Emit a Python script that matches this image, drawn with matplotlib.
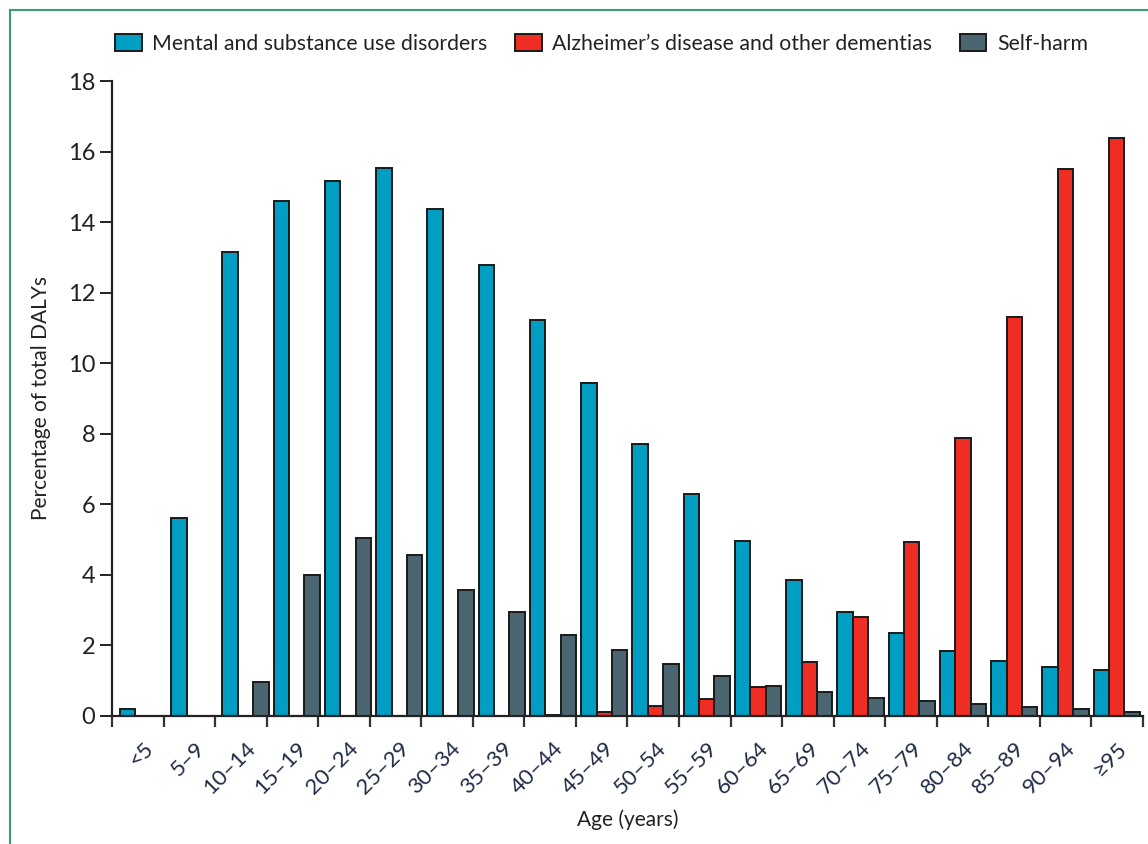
import matplotlib
matplotlib.use("Agg")
import matplotlib.pyplot as plt
import numpy as np
from matplotlib.lines import Line2D

ages = ["<5", "5–9", "10–14", "15–19", "20–24", "25–29", "30–34", "35–39", "40–44", "45–49",
        "50–54", "55–59", "60–64", "65–69", "70–74", "75–79", "80–84", "85–89", "90–94", "≥95"]
mental = [0.2, 5.6, 13.15, 14.6, 15.16, 15.53, 14.37, 12.78, 11.22, 9.44,
          7.71, 6.29, 4.96, 3.85, 2.95, 2.35, 1.84, 1.56, 1.39, 1.30]
alzheimer = [0, 0, 0, 0, 0, 0, 0, 0, 0.02, 0.1,
             0.28, 0.48, 0.83, 1.52, 2.8, 4.93, 7.88, 11.31, 15.5, 16.38]
selfharm = [0, 0, 0.97, 4.0, 5.05, 4.56, 3.57, 2.95, 2.3, 1.87,
            1.47, 1.13, 0.85, 0.68, 0.5, 0.42, 0.34, 0.26, 0.2, 0.12]
series_names = ["Mental and substance use disorders", "Alzheimer’s disease and other dementias", "Self-harm"]
colors = ["#009EC2", "#EE2D24", "#4B6670"]

plt.rcParams['font.family'] = ['Lato', 'DejaVu Sans']

fig = plt.figure(figsize=(11.48, 8.44), dpi=100)
ax = fig.add_axes([0.0976, 0.1517, 0.8980, 0.7523])

x = np.arange(len(ages))
w = 0.3
handles = []
for i, (vals, name, c) in enumerate(zip([mental, alzheimer, selfharm], series_names, colors)):
    b = ax.bar(x + (i - 1) * w, vals, width=w, color=c, edgecolor="#1a1a1a", linewidth=1.4, label=name)
    handles.append(b)

x0, x1 = -0.605, 19.51
ax.set_xlim(x0, x1)
ax.set_ylim(0, 18)
ax.set_yticks(np.arange(0, 19, 2))
ax.set_xticks(x)
ax.set_xticklabels(ages, rotation=45, ha="right", va="top", rotation_mode="anchor")
ax.set_xticks(np.linspace(x0, x1, len(ages) + 1), minor=True)
ax.tick_params(axis="x", which="major", length=0, pad=16, labelsize=16, colors="#222222")
ax.tick_params(axis="x", which="minor", length=8, width=1.6, color="#333333")
ax.tick_params(axis="y", length=8.5, width=1.4, labelsize=17, colors="#222222", pad=3.5)
for lbl in ax.get_xticklabels():
    lbl.set_color("#1f2a44")
for s in ["top", "right"]:
    ax.spines[s].set_visible(False)
for s in ["left", "bottom"]:
    ax.spines[s].set_linewidth(1.6)
    ax.spines[s].set_color("#222222")

ax.set_ylabel("Percentage of total DALYs", fontsize=15, color="#222222", labelpad=12)
ax.set_xlabel("Age (years)", fontsize=15, color="#222222", labelpad=8)

leg = fig.legend(handles=handles, labels=series_names, loc="center left",
                 bbox_to_anchor=(0.1002, 0.9479), ncol=3, frameon=False,
                 fontsize=15.3, handlelength=1.25, handleheight=0.85, columnspacing=1.3,
                 handletextpad=0.5, borderaxespad=0, borderpad=0)
for t in leg.get_texts():
    t.set_color("#222222")

green = "#3E9B6B"
fig.add_artist(Line2D([0.0087, 1.0], [0.988, 0.988], transform=fig.transFigure, color=green, lw=1.5))
fig.add_artist(Line2D([0.0087, 0.0087], [0.0, 0.988], transform=fig.transFigure, color=green, lw=1.5))

fig.savefig("out.png", dpi=100)
